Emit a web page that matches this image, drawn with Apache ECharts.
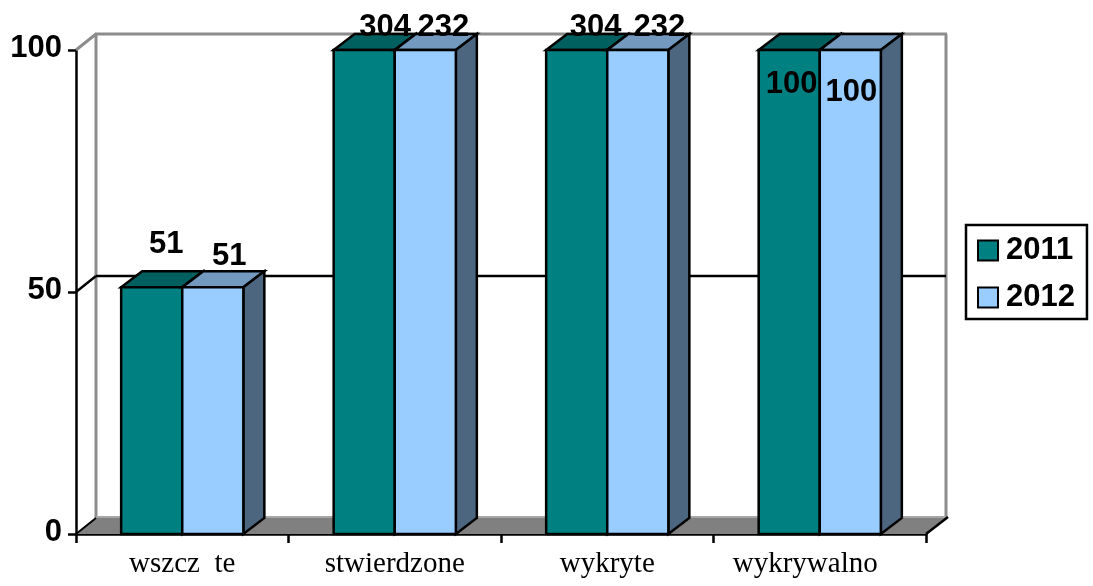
<!DOCTYPE html>
<html>
<head>
<meta charset="utf-8">
<style>html,body{margin:0;padding:0;background:#fff}#c{width:1093px;height:586px}</style>
<script src="https://cdn.jsdelivr.net/npm/echarts@6/dist/echarts.min.js"></script>
</head>
<body>
<div id="c"></div>
<script>
var categories = ['wszcz  te', 'stwierdzone', 'wykryte', 'wykrywalno    '];
var values2011 = [51, 100, 100, 100];
var values2012 = [51, 100, 100, 100];
var labels2011 = ['51', '304', '304', '100'];
var labels2012 = ['51', '232', '232', '100'];
var yTicks = [0, 50, 100];

var FONT = '"Liberation Sans", Arial, sans-serif';
var DEPTH_X = 21, DEPTH_Y = 16, WALL_X = 20, WALL_Y = 16;
var BAR_FRACTION = 0.2875;
var nudge2011 = [[14.5, -43], [21, -23], [19, -23], [2.5, 34]];
var nudge2012 = [[16.5, -31], [18, -23], [21.5, -23], [1, 42]];
var stroke = {stroke: '#000', lineWidth: 2.5, lineJoin: 'miter'};

function poly(pts, fill) {
  return {type: 'polygon', shape: {points: pts}, style: Object.assign({fill: fill}, stroke)};
}
function barItem(side, labels, nudges, colors) {
  return function (params, api) {
    var i = api.value(0);
    var top = api.coord([i, api.value(1)]);
    var base = api.coord([i, 0]);
    var w = api.size([1, 0])[0] * BAR_FRACTION;
    var x0 = side < 0 ? top[0] - w : top[0];
    var x1 = x0 + w;
    var y0 = top[1], y1 = base[1];
    var n = nudges[i];
    return {
      type: 'group',
      children: [
        poly([[x0, y0], [x1, y0], [x1 + DEPTH_X, y0 - DEPTH_Y], [x0 + DEPTH_X, y0 - DEPTH_Y]], colors.top),
        poly([[x1, y0], [x1 + DEPTH_X, y0 - DEPTH_Y], [x1 + DEPTH_X, y1 - DEPTH_Y], [x1, y1]], colors.side),
        poly([[x0, y0], [x1, y0], [x1, y1], [x0, y1]], colors.front),
        {type: 'text', z2: 100, style: {
          text: labels[i], x: (x0 + x1) / 2 + n[0], y: y0 + n[1],
          align: 'center', verticalAlign: 'middle',
          font: 'bold 31px ' + FONT, fill: '#000'
        }}
      ]
    };
  };
}
function wallItem(params, api) {
  var c = params.coordSys;
  var L = c.x, R = c.x + c.width, T = c.y, B = c.y + c.height;
  var mid = api.coord([0, yTicks[1]])[1];
  function line(x1, y1, x2, y2, col, w) {
    return {type: 'line', shape: {x1: x1, y1: y1, x2: x2, y2: y2}, style: {stroke: col, lineWidth: w}};
  }
  return {type: 'group', children: [
    line(L + WALL_X, T - WALL_Y, L + WALL_X, B - WALL_Y, '#8c8c8c', 3),
    line(R + WALL_X, T - WALL_Y, R + WALL_X, B - WALL_Y, '#8c8c8c', 3),
    {type: 'polygon', shape: {points: [[L, B], [L + WALL_X, B - WALL_Y], [R + WALL_X, B - WALL_Y], [R, B]]},
      style: {fill: '#808080'}},
    line(L + WALL_X, B - WALL_Y - 1, R + WALL_X, B - WALL_Y - 1, '#a6a6a6', 2),
    line(R, B, R + WALL_X + 2, B - WALL_Y - 1, '#000', 2.5),
    line(L, B, L + WALL_X, B - WALL_Y, '#000', 2),
    line(L, T, L + WALL_X, T - WALL_Y, '#8c8c8c', 3),
    line(L + WALL_X - 1, T - WALL_Y, R + WALL_X + 1, T - WALL_Y, '#8c8c8c', 3),
    line(L, mid, L + WALL_X, mid - WALL_Y, '#000', 2.5),
    line(L + WALL_X, mid - WALL_Y, R + WALL_X, mid - WALL_Y, '#000', 2.5)
  ]};
}

var chart = echarts.init(document.getElementById('c'), null, {renderer: 'canvas'});
chart.setOption({
  animation: false,
  backgroundColor: '#fff',
  grid: {left: 76, right: 167, top: 50, bottom: 52, containLabel: false},
  legend: {
    data: [{name: '2011', icon: 'rect'}, {name: '2012', icon: 'rect'}],
    orient: 'vertical', left: 966, top: 225,
    padding: [10, 12, 6, 11], itemWidth: 20, itemHeight: 20, itemGap: 16,
    backgroundColor: '#fff', borderColor: '#000', borderWidth: 2.5, selectedMode: false,
    textStyle: {fontFamily: FONT, fontWeight: 'bold', fontSize: 31, lineHeight: 29, color: '#000', padding: [2, 0, 0, 3]}
  },
  xAxis: {
    type: 'category', data: categories, boundaryGap: true,
    axisLine: {show: true, lineStyle: {color: '#000', width: 2.5}},
    axisTick: {show: true, length: 9, alignWithLabel: false, lineStyle: {color: '#000', width: 2.5}},
    axisLabel: {fontFamily: '"Liberation Serif", "Times New Roman", serif', fontSize: 29, color: '#000', margin: 16, interval: 0},
    splitLine: {show: false}
  },
  yAxis: {
    type: 'value', min: 0, max: 100, interval: 50,
    axisLine: {show: true, lineStyle: {color: '#000', width: 2.5}},
    axisTick: {show: true, length: 8, lineStyle: {color: '#000', width: 2.5}},
    axisLabel: {fontFamily: FONT, fontWeight: 'bold', fontSize: 31, color: '#000', margin: 14, verticalAlign: 'bottom', lineHeight: 3},
    splitLine: {show: false}
  },
  series: [
    {type: 'custom', name: 'wall', z: 1, silent: true, data: [[0, 0]], renderItem: wallItem, encode: {x: 0, y: 1}},
    {type: 'custom', name: '2011', z: 3, silent: true,
      itemStyle: {color: '#008080', borderColor: '#000', borderWidth: 2.5},
      data: values2011.map(function (v, i) { return [i, v]; }), encode: {x: 0, y: 1},
      renderItem: barItem(-1, labels2011, nudge2011, {front: '#008080', top: '#006060', side: '#004040'})},
    {type: 'custom', name: '2012', z: 4, silent: true,
      itemStyle: {color: '#99CCFF', borderColor: '#000', borderWidth: 2.5},
      data: values2012.map(function (v, i) { return [i, v]; }), encode: {x: 0, y: 1},
      renderItem: barItem(1, labels2012, nudge2012, {front: '#99CCFF', top: '#7399BF', side: '#4D6680'})}
  ]
});
</script>
</body>
</html>
